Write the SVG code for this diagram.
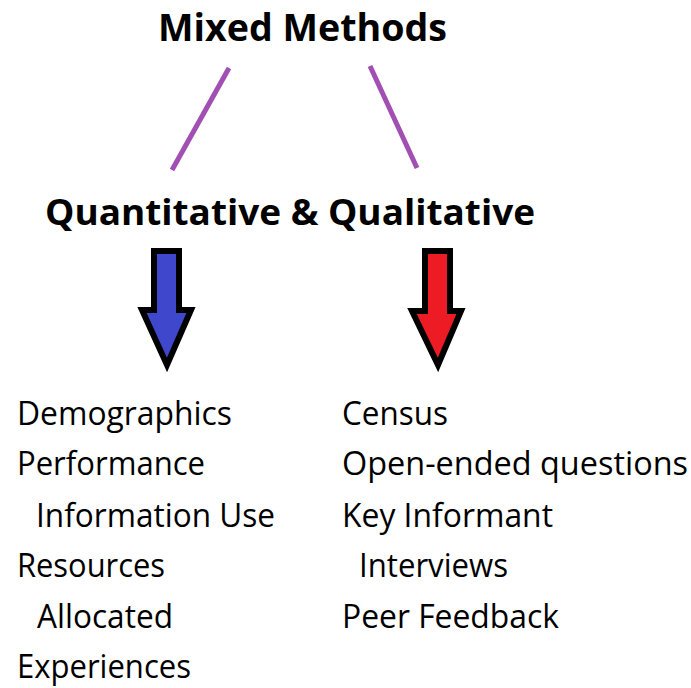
<svg xmlns="http://www.w3.org/2000/svg" width="691" height="688" viewBox="0 0 691 688">
<style>
.t{font-family:"Open Sans","Noto Sans",sans-serif;fill:#000}
.h{font-weight:bold}
.l{font-size:32px}
.c{stroke:#A24FB4;stroke-width:5;stroke-linecap:butt;fill:none}
.a{stroke:#000;stroke-width:6;stroke-linejoin:miter}
</style>
<rect width="691" height="688" fill="#fff"/>
<g id="title"><text class="t h" x="158" y="41" font-size="38" textLength="289" lengthAdjust="spacingAndGlyphs">Mixed Methods</text></g>
<g id="subtitle"><text class="t h" x="45" y="225" font-size="36" textLength="490" lengthAdjust="spacingAndGlyphs">Quantitative &amp; Qualitative</text></g>
<g id="connectors">
<line class="c" x1="229" y1="68" x2="172" y2="170"/>
<line class="c" x1="370" y1="66" x2="417" y2="168"/>
</g>
<g id="arrow-quant"><path class="a" fill="#3F48CC" d="M154,251 H179 V310 H191 L167,365 L142,310 H154 Z"/></g>
<g id="arrow-qual"><path class="a" fill="#ED1C24" d="M425,251 H450 V311 H461 L438,365 L412,311 H425 Z"/></g>
<g id="quant-list" class="t l">
<text x="17" y="425" textLength="215" lengthAdjust="spacingAndGlyphs">Demographics</text>
<text x="17" y="475" textLength="188" lengthAdjust="spacingAndGlyphs">Performance</text>
<text x="36" y="527" textLength="239" lengthAdjust="spacingAndGlyphs">Information Use</text>
<text x="17" y="577" textLength="148" lengthAdjust="spacingAndGlyphs">Resources</text>
<text x="37" y="628" textLength="136" lengthAdjust="spacingAndGlyphs">Allocated</text>
<text x="17" y="678" textLength="174" lengthAdjust="spacingAndGlyphs">Experiences</text>
</g>
<g id="qual-list" class="t l">
<text x="342" y="425" textLength="106" lengthAdjust="spacingAndGlyphs">Census</text>
<text x="342" y="475" textLength="346" lengthAdjust="spacingAndGlyphs">Open-ended questions</text>
<text x="342" y="527" textLength="211" lengthAdjust="spacingAndGlyphs">Key Informant</text>
<text x="359" y="577" textLength="149" lengthAdjust="spacingAndGlyphs">Interviews</text>
<text x="342" y="628" textLength="217" lengthAdjust="spacingAndGlyphs">Peer Feedback</text>
</g>
</svg>
